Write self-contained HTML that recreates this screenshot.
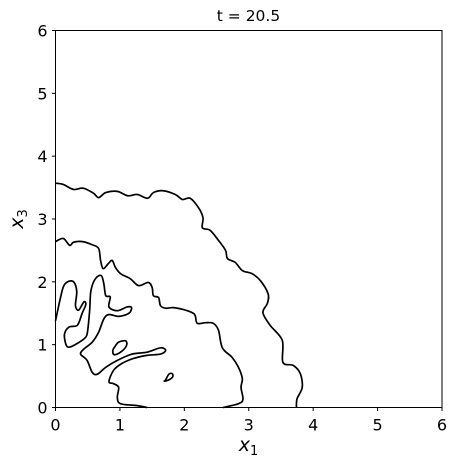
<!DOCTYPE html>
<html><head><meta charset="utf-8"><style>
html,body{margin:0;padding:0;background:#fff;}
svg{display:block;font-family:"DejaVu Sans","Liberation Sans",sans-serif;}
</style></head><body>
<svg id="chart" width="457" height="467" viewBox="0 0 457 467" xmlns="http://www.w3.org/2000/svg">
<rect x="0" y="0" width="457" height="467" fill="#fff"/>
<text x="248.5" y="21" font-size="15.5" text-anchor="middle">t = 20.5</text>
<g id="contours"></g>
<rect x="55.5" y="30.5" width="386.5" height="377" fill="none" stroke="#000" stroke-width="1"/>
<g id="xticks"></g>
<g id="yticks"></g>
<text x="248.5" y="451" font-size="19" text-anchor="middle" font-style="italic">x<tspan font-size="13" dy="4" font-style="normal">1</tspan></text>
<text transform="translate(23,219) rotate(-90)" font-size="19" text-anchor="middle" font-style="italic">x<tspan font-size="13" dy="4" font-style="normal">3</tspan></text>
</svg>
<script>
const xTicks = [0,1,2,3,4,5,6];
const yTicks = [0,1,2,3,4,5,6];
const outerX = [0,0.12,0.28,0.43,0.59,0.67,0.78,0.96,1.12,1.27,1.43,1.52,1.67,1.86,1.97,2.09,2.22,2.29,2.28,2.40,2.53,2.64,2.67,2.79,2.90,3.05,3.18,3.30,3.29,3.22,3.33,3.52,3.53,3.69,3.80,3.83,3.75,3.74];
const outerY = [3.57,3.55,3.47,3.49,3.41,3.34,3.42,3.44,3.37,3.39,3.33,3.42,3.45,3.39,3.31,3.33,3.18,3.02,2.86,2.82,2.66,2.50,2.37,2.31,2.18,2.13,2.02,1.81,1.66,1.51,1.31,1.07,0.72,0.67,0.54,0.32,0.14,0];
const midX = [0,0.12,0.22,0.28,0.42,0.57,0.67,0.70,0.74,0.82,0.88,0.93,1.01,1.16,1.29,1.44,1.50,1.52,1.60,1.63,1.71,1.83,1.98,2.12,2.17,2.20,2.33,2.45,2.53,2.59,2.74,2.84,2.90,2.88,2.91,2.84,2.60];
const midY = [2.64,2.69,2.58,2.63,2.64,2.59,2.53,2.34,2.21,2.29,2.34,2.23,2.13,2.05,1.94,1.99,1.91,1.78,1.75,1.62,1.58,1.59,1.56,1.51,1.46,1.34,1.35,1.34,1.23,0.95,0.80,0.64,0.46,0.32,0.13,0.06,0];
const innerX = [0,0.08,0.13,0.21,0.29,0.33,0.31,0.36,0.44,0.47,0.41,0.34,0.21,0.14,0.16,0.21,0.34,0.47,0.50,0.53,0.55,0.62,0.71,0.75,0.78,0.85,0.83,0.96,1.11,1.18,1.14,0.98,0.83,0.75,0.67,0.57,0.44,0.39,0.49,0.57,0.65,0.78,0.96,1.19,1.42,1.63,1.71,1.63,1.42,1.21,1.03,0.90,0.83,0.90,0.98,0.96,1.01,1.27,1.42];
const innerY = [1.38,1.76,1.94,2.01,1.99,1.84,1.62,1.55,1.68,1.64,1.49,1.31,1.28,1.17,1.01,0.96,1.02,1.12,1.23,1.54,1.86,2.05,2.10,1.97,1.78,1.76,1.60,1.54,1.60,1.59,1.50,1.45,1.48,1.41,1.20,1.04,0.93,0.85,0.75,0.56,0.53,0.64,0.75,0.85,0.88,0.95,0.91,0.85,0.83,0.78,0.70,0.59,0.41,0.38,0.32,0.16,0.06,0.03,0];
const loop1X = [0.98,1.09,1.10,1.01,0.91,0.89,0.93];
const loop1Y = [1.04,1.06,0.98,0.88,0.84,0.91,0.98];
const loop2X = [1.71,1.76,1.81,1.82,1.76,1.69];
const loop2Y = [0.44,0.53,0.54,0.49,0.44,0.42];

const X0=55.5, X1=442, Y0=407.5, Y1=30.5;
function sx(v){return X0+(v/6)*(X1-X0);}
function sy(v){return Y0-(v/6)*(Y0-Y1);}
const NS='http://www.w3.org/2000/svg';

function pathFrom(xs,ys,closed){
  const p=xs.map((x,i)=>[sx(x),sy(ys[i])]);
  const n=p.length;
  const get=i=>closed?p[(i+n)%n]:p[Math.max(0,Math.min(n-1,i))];
  let d='M'+p[0][0].toFixed(2)+','+p[0][1].toFixed(2);
  const segs=closed?n:n-1;
  for(let i=0;i<segs;i++){
    const a=get(i-1),b=get(i),c=get(i+1),e=get(i+2);
    const c1=[b[0]+(c[0]-a[0])/6,b[1]+(c[1]-a[1])/6];
    const c2=[c[0]-(e[0]-b[0])/6,c[1]-(e[1]-b[1])/6];
    d+='C'+c1[0].toFixed(2)+','+c1[1].toFixed(2)+' '+c2[0].toFixed(2)+','+c2[1].toFixed(2)+' '+c[0].toFixed(2)+','+c[1].toFixed(2);
  }
  if(closed)d+='Z';
  return d;
}
const cg=document.getElementById('contours');
function addLine(xs,ys,closed,name){
  const el=document.createElementNS(NS,'path');
  el.setAttribute('d',pathFrom(xs,ys,closed));
  el.setAttribute('fill','none');
  el.setAttribute('stroke','#000');
  el.setAttribute('stroke-width','1.7');
  el.setAttribute('stroke-linejoin','round');
  
  
  cg.appendChild(el);
}
addLine(outerX,outerY,false,'contour-outer');
addLine(midX,midY,false,'contour-middle');
addLine(innerX,innerY,false,'contour-inner');
addLine(loop1X,loop1Y,true,'contour-loop-1');
addLine(loop2X,loop2Y,true,'contour-loop-2');

const xg=document.getElementById('xticks');
xTicks.forEach(t=>{
  const l=document.createElementNS(NS,'line');
  l.setAttribute('x1',sx(t));l.setAttribute('x2',sx(t));
  l.setAttribute('y1',Y0);l.setAttribute('y2',Y0+3.5);
  l.setAttribute('stroke','#000');
  
  
  xg.appendChild(l);
  const tx=document.createElementNS(NS,'text');
  tx.setAttribute('x',sx(t));tx.setAttribute('y',Y0+23);
  tx.setAttribute('font-size','16');tx.setAttribute('text-anchor','middle');
  tx.textContent=t;
  
  
  xg.appendChild(tx);
});
const yg=document.getElementById('yticks');
yTicks.forEach(t=>{
  const l=document.createElementNS(NS,'line');
  l.setAttribute('x1',X0-3.5);l.setAttribute('x2',X0);
  l.setAttribute('y1',sy(t));l.setAttribute('y2',sy(t));
  l.setAttribute('stroke','#000');
  
  
  yg.appendChild(l);
  const tx=document.createElementNS(NS,'text');
  tx.setAttribute('x',X0-8);tx.setAttribute('y',sy(t)+6);
  tx.setAttribute('font-size','16');tx.setAttribute('text-anchor','end');
  tx.textContent=t;
  
  
  yg.appendChild(tx);
});
</script>
</body></html>
